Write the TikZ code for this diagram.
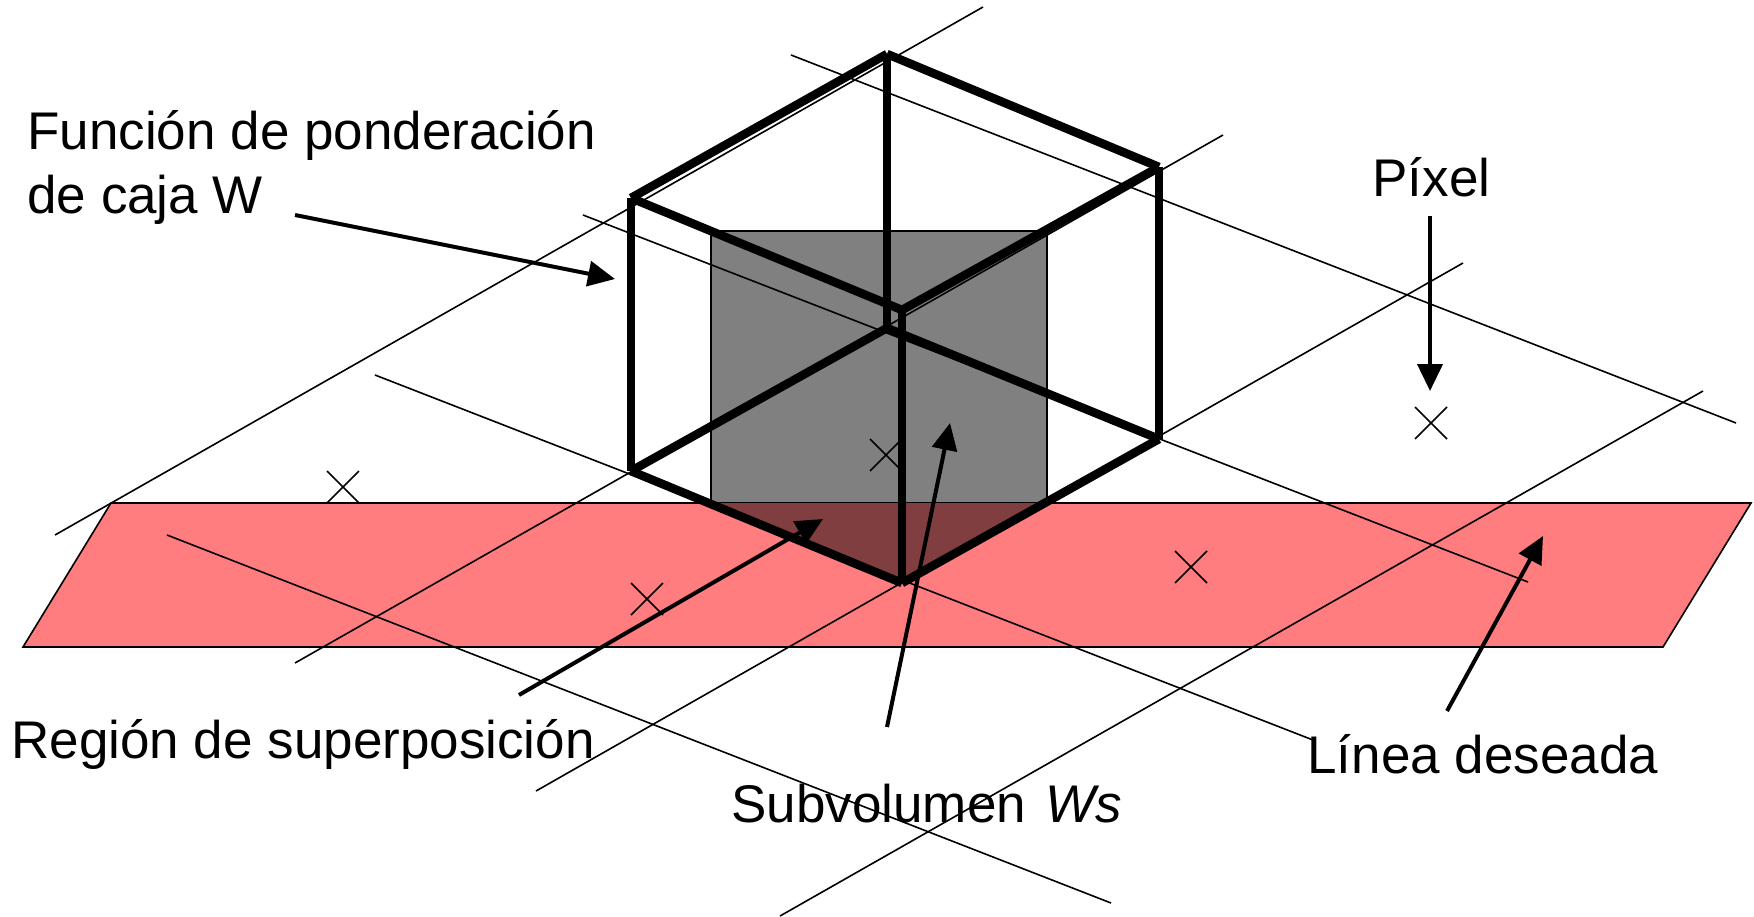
\documentclass[tikz,border=0pt]{standalone}
\usepackage{fontspec}
\setmainfont{Liberation Sans}
\usepackage{xcolor}
\usetikzlibrary{arrows.meta}
\definecolor{planered}{HTML}{FF7C7F}
\definecolor{overlapred}{HTML}{803E40}
\definecolor{subgray}{HTML}{808080}

\begin{document}
\begin{tikzpicture}[
    x=0.5pt, y=-0.5pt,
    grid/.style={draw=black, line width=0.8pt},
    edge/.style={draw=black, line width=4.3pt},
    arr/.style={-{Triangle[length=13.5pt,width=12.5pt]}, line width=2pt},
    lbl/.style={anchor=base west, inner sep=0pt, align=left, font=\fontsize{26.5}{32}\selectfont}
  ]
    \useasboundingbox (0,0) rectangle (1754,916);

    \coordinate (tl) at (631,198);
    \coordinate (ta) at (887,54);
    \coordinate (tr) at (1159,167);
    \coordinate (tf) at (902,310);
    \coordinate (bl) at (631,471);
    \coordinate (ba) at (887,328);
    \coordinate (br) at (1159,439);
    \coordinate (bf) at (902,583);

    \filldraw[grid, fill=subgray] (711,231) rectangle (1047,503);
    \filldraw[grid, fill=planered] (111,503) -- (1751,503) -- (1663,647) -- (23,647) -- cycle;
    \fill[overlapred] (711,503) -- (1047,503) -- (bf) -- cycle;

    \foreach \xa/\ya/\xb/\yb in {55/535/983/7, 295/663/1223/135, 536/791/1463/263, 780/916/1703/391,
        791/55/1736/423, 583/215/1528/582, 375/375/1313/740, 167/535/1111/903}
      \draw[grid] (\xa,\ya) -- (\xb,\yb);

    \foreach \cx/\cy in {343/487, 886/455, 647/599, 1191/567, 1431/423}
      \draw[grid] (\cx-16,\cy-16) -- (\cx+16,\cy+16) (\cx-16,\cy+16) -- (\cx+16,\cy-16);

    \foreach \from/\to in {tl/ta, ta/tr, tr/tf, tf/tl, tl/bl, ta/ba, tr/br, tf/bf, bl/bf, bf/br, br/ba, ba/bl}
      \draw[edge] (\from) -- (\to);

    \node[lbl] (caja) at (27,213) {Función de ponderación\\de caja W};
    \node[lbl] (pixel) at (1372,196) {Píxel};
    \node[lbl] (region) at (11,758) {Región de superposición};
    \node[lbl] (subvol) at (731,822) {Subvolumen\hspace{2.5pt} \textit{Ws}};
    \node[lbl] (linea) at (1307,773) {Línea deseada};

    \coordinate (cajastart) at (295,215);
    \coordinate (cajatip) at (615,279);
    \coordinate (pixelstart) at (1430,216);
    \coordinate (pixeltip) at (1430,391);
    \coordinate (regionstart) at (519,695);
    \coordinate (regiontip) at (823,519);
    \coordinate (subvolstart) at (887,727);
    \coordinate (subvoltip) at (950,423);
    \coordinate (lineastart) at (1447,711);
    \coordinate (lineatip) at (1543,536);

    \draw[arr] (cajastart) -- (cajatip);
    \draw[arr] (pixelstart) -- (pixeltip);
    \draw[arr] (regionstart) -- (regiontip);
    \draw[arr] (subvolstart) -- (subvoltip);
    \draw[arr] (lineastart) -- (lineatip);
  \end{tikzpicture}
\end{document}
